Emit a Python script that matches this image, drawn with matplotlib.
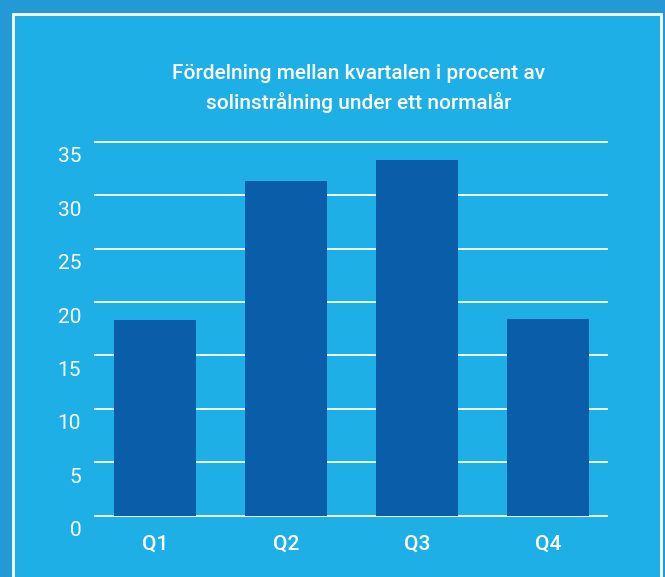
import matplotlib
matplotlib.use("Agg")
import matplotlib.pyplot as plt
from matplotlib.patches import Rectangle

plt.rcParams['font.family'] = ['Roboto', 'DejaVu Sans']

# data
quarters = ["Q1", "Q2", "Q3", "Q4"]
share_pct = [18.3, 31.3, 33.3, 18.4]
y_ticks = [0, 5, 10, 15, 20, 25, 30, 35]
title = "Fördelning mellan kvartalen i procent av\nsolinstrålning under ett normalår"

outer_bg = "#239AD5"
inner_bg = "#1EAFE6"
bar_col = "#0A5DA8"

W, H = 665, 577
fig = plt.figure(figsize=(W / 100, H / 100), dpi=100)
fig.patch.set_facecolor(outer_bg)

# inner panel with white frame (runs off the bottom edge)
panel = Rectangle((13 / W, -20 / H), (661 - 13) / W, (H - 14 + 20) / H,
                  transform=fig.transFigure, facecolor=inner_bg,
                  edgecolor="white", linewidth=2, zorder=0)
fig.patches.append(panel)

# axes placed to match the reference plot area
left, right = 95 / W, 607 / W
bottom, top = (H - 515.5) / H, (H - 142) / H
ax = fig.add_axes([left, bottom, right - left, top - bottom])
ax.set_zorder(2)
ax.set_facecolor("none")
for s in ax.spines.values():
    s.set_visible(False)

x = range(len(quarters))
ax.bar(x, share_pct, width=0.626, color=bar_col, zorder=3)

for v in y_ticks:
    ax.axhline(v, color="white", linewidth=1.3, zorder=1, clip_on=False)
    # labels sit a bit below their grid lines
    ax.text(-0.027, v - 1.4, str(v), transform=ax.get_yaxis_transform(),
            ha="right", va="center", color="white", fontsize=15)

ax.set_xlim(-0.458, 3.45)
ax.set_ylim(0, 35)
ax.set_yticks([])
ax.set_xticks(list(x))
ax.set_xticklabels(quarters, color="white", fontsize=15, fontweight="medium")
ax.tick_params(axis="x", length=0, pad=14)

fig.text(359 / W, 1 - 88.5 / H, title, ha="center", va="center",
         color="white", fontsize=15, fontweight="medium", linespacing=1.55,
         zorder=3)

fig.savefig("out.png", dpi=100, facecolor=fig.get_facecolor())
